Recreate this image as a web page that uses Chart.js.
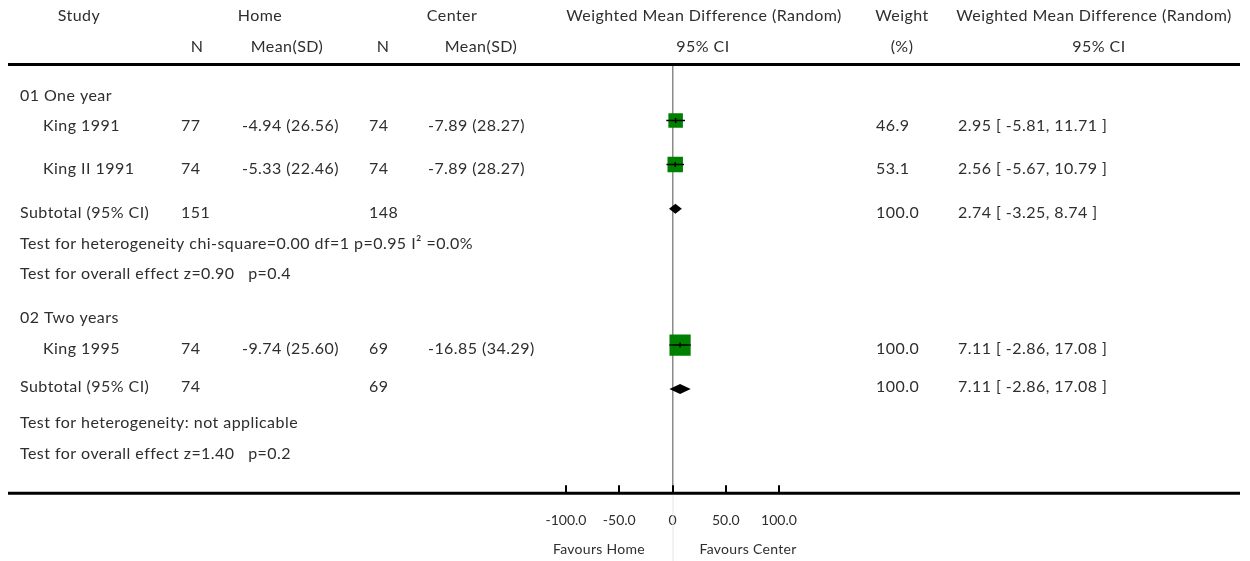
<!DOCTYPE html>
<html><head><meta charset="utf-8">
<script src="https://cdn.jsdelivr.net/npm/chart.js@4.4.1/dist/chart.umd.min.js"></script>
<style>html,body{margin:0;padding:0;background:#fff;overflow:hidden}#wrap{width:1250px;height:561px;position:relative}</style>
</head><body><div id="wrap"><canvas id="c"></canvas></div>
<script>
// ---------- DATA ----------
const groups = ['01 One year', '02 Two years'];
const studies = ['King 1991', 'King II 1991', 'King 1995'];
const studyGroup = [0, 0, 1];
const homeN = [77, 74, 74];
const homeMean = [-4.94, -5.33, -9.74];
const homeSD = [26.56, 22.46, 25.60];
const centerN = [74, 74, 69];
const centerMean = [-7.89, -7.89, -16.85];
const centerSD = [28.27, 28.27, 34.29];
const wmd = [2.95, 2.56, 7.11];
const ciLow = [-5.81, -5.67, -2.86];
const ciHigh = [11.71, 10.79, 17.08];
const weight = [46.9, 53.1, 100.0];
const subHomeN = [151, 74];
const subCenterN = [148, 69];
const subWmd = [2.74, 7.11];
const subLow = [-3.25, -2.86];
const subHigh = [8.74, 17.08];
const subWeight = [100.0, 100.0];
const heterogeneity = ['Test for heterogeneity chi-square=0.00 df=1 p=0.95 I\u00b2 =0.0%', 'Test for heterogeneity: not applicable'];
const overallEffect = ['Test for overall effect z=0.90   p=0.4', 'Test for overall effect z=1.40   p=0.2'];
const xTicks = [-100, -50, 0, 50, 100];
const xTickLabels = ['-100.0', '-50.0', '0', '50.0', '100.0'];
const axisLabels = ['Favours Home', 'Favours Center'];

// ---------- LAYOUT ----------
const FONT = '16px Lato';
const TXT = '#2e2e2e';
const studyRow = [2.59, 4.65, 13.08];   // y-scale units for study marks
const subRow = [6.71, 15.13];          // y-scale units for subtotal diamonds
const studyTextY = [126, 169, 349];
const subTextY = [213, 387];
const groupTextY = [96, 318];
const hetTextY = [244, 423];
const overallTextY = [274, 454];

const fmt2 = v => v.toFixed(2);
const meanSd = (m, s) => fmt2(m) + ' (' + fmt2(s) + ')';
const ciText = (e, l, h) => fmt2(e) + ' [ ' + fmt2(l) + ', ' + fmt2(h) + ' ]';

const datasets = [];
studies.forEach((s, i) => {
  datasets.push({
    type: 'line', label: s + ' CI',
    data: [{x: ciLow[i], y: studyRow[i]}, {x: ciHigh[i], y: studyRow[i]}],
    borderColor: '#000', borderWidth: 1.5, pointRadius: 0, order: 1
  });
});
datasets.push({
  type: 'scatter', label: 'estimates',
  data: studies.map((s, i) => ({x: wmd[i], y: studyRow[i]})),
  pointStyle: 'line', rotation: 90, pointRadius: 2.5, borderColor: '#000', borderWidth: 1.5, order: 0
});
datasets.push({
  type: 'scatter', label: 'squares',
  data: studies.map((s, i) => ({x: wmd[i], y: studyRow[i]})),
  pointStyle: 'rect', pointRadius: weight.map(w => 1.5 * Math.sqrt(w)),
  backgroundColor: '#008000', borderWidth: 0, order: 2
});

const forestPlugin = {
  id: 'forest',
  afterDatasetsDraw(chart) {
    const ctx = chart.ctx, xs = chart.scales.x, ys = chart.scales.y;
    ctx.save();
    ctx.fillStyle = '#000';
    subWmd.forEach((e, g) => {
      const yc = ys.getPixelForValue(subRow[g]);
      const h = 5;
      ctx.beginPath();
      ctx.moveTo(xs.getPixelForValue(subLow[g]), yc);
      ctx.lineTo(xs.getPixelForValue(e), yc - h);
      ctx.lineTo(xs.getPixelForValue(subHigh[g]), yc);
      ctx.lineTo(xs.getPixelForValue(e), yc + h);
      ctx.closePath();
      ctx.fill();
    });
    ctx.restore();
  },
  afterDraw(chart) {
    const ctx = chart.ctx, xs = chart.scales.x, ca = chart.chartArea;
    ctx.save();
    ctx.strokeStyle = '#000';
    ctx.lineWidth = 3;
    ctx.beginPath(); ctx.moveTo(8, 64.5); ctx.lineTo(1240, 64.5); ctx.stroke();
    ctx.beginPath(); ctx.moveTo(8, ca.bottom); ctx.lineTo(1240, ca.bottom); ctx.stroke();
    ctx.lineWidth = 2;
    xTicks.forEach(v => {
      const px = Math.round(xs.getPixelForValue(v));
      ctx.beginPath(); ctx.moveTo(px, ca.bottom - 8); ctx.lineTo(px, ca.bottom); ctx.stroke();
    });
    const z = xs.getPixelForValue(0);
    ctx.strokeStyle = '#e4e4e4'; ctx.lineWidth = 1;
    ctx.beginPath(); ctx.moveTo(z + 0.5, ca.bottom + 2); ctx.lineTo(z + 0.5, 561); ctx.stroke();

    ctx.fillStyle = TXT;
    ctx.font = FONT;
    try { ctx.letterSpacing = '0.45px'; } catch (e) {}
    ctx.textBaseline = 'middle';
    const t = (s, x, y, align) => { ctx.textAlign = align || 'left'; ctx.fillText(s, x, y); };
    t('Study', 79, 16, 'center');
    t('Home', 260, 16, 'center');
    t('Center', 452, 16, 'center');
    t('Weighted Mean Difference (Random)', 704, 16, 'center');
    t('Weight', 902, 16, 'center');
    t('Weighted Mean Difference (Random)', 1094, 16, 'center');
    t('N', 197, 47, 'center');
    t('Mean(SD)', 287, 47, 'center');
    t('N', 383, 47, 'center');
    t('Mean(SD)', 481, 47, 'center');
    t('95% CI', 703, 47, 'center');
    t('(%)', 902, 47, 'center');
    t('95% CI', 1099, 47, 'center');
    groups.forEach((g, gi) => {
      t(g, 20, groupTextY[gi]);
      studies.forEach((s, i) => {
        if (studyGroup[i] !== gi) return;
        const y = studyTextY[i];
        t(s, 43, y);
        t(String(homeN[i]), 181, y);
        t(meanSd(homeMean[i], homeSD[i]), 242, y);
        t(String(centerN[i]), 369, y);
        t(meanSd(centerMean[i], centerSD[i]), 428, y);
        t(weight[i].toFixed(1), 876, y);
        t(ciText(wmd[i], ciLow[i], ciHigh[i]), 958, y);
      });
      const sy = subTextY[gi];
      t('Subtotal (95% CI)', 20, sy);
      t(String(subHomeN[gi]), 181, sy);
      t(String(subCenterN[gi]), 369, sy);
      t(subWeight[gi].toFixed(1), 876, sy);
      t(ciText(subWmd[gi], subLow[gi], subHigh[gi]), 958, sy);
      t(heterogeneity[gi], 20, hetTextY[gi]);
      t(overallEffect[gi], 20, overallTextY[gi]);
    });
    ctx.font = '14px Lato';
    try { ctx.letterSpacing = '0.3px'; } catch (e) {}
    t(axisLabels[0], 599, 549, 'center');
    t(axisLabels[1], 748, 549, 'center');
    ctx.restore();
  }
};

Chart.defaults.font.family = 'Lato';
new Chart(document.getElementById('c'), {
  data: { datasets },
  options: {
    responsive: true, maintainAspectRatio: false, animation: false,
    layout: { padding: { left: 566, right: 471, top: 65, bottom: 13 } },
    plugins: { legend: { display: false }, tooltip: { enabled: false } },
    scales: {
      x: {
        type: 'linear', min: -100, max: 100,
        afterBuildTicks: s => { s.ticks = xTicks.map(v => ({ value: v })); },
        ticks: {
          autoSkip: false, maxRotation: 0, padding: 19, color: TXT,
          font: { size: 14, family: 'Lato' },
          callback: (v) => xTickLabels[xTicks.indexOf(v)]
        },
        grid: {
          drawTicks: false,
          color: c => (c.tick && c.tick.value === 0) ? '#8a8a8a' : 'rgba(0,0,0,0)',
          lineWidth: 1.5
        },
        border: { display: false }
      },
      y: { type: 'linear', min: 0, max: 20, reverse: true, display: false }
    }
  },
  plugins: [forestPlugin]
});
</script>
</body></html>
